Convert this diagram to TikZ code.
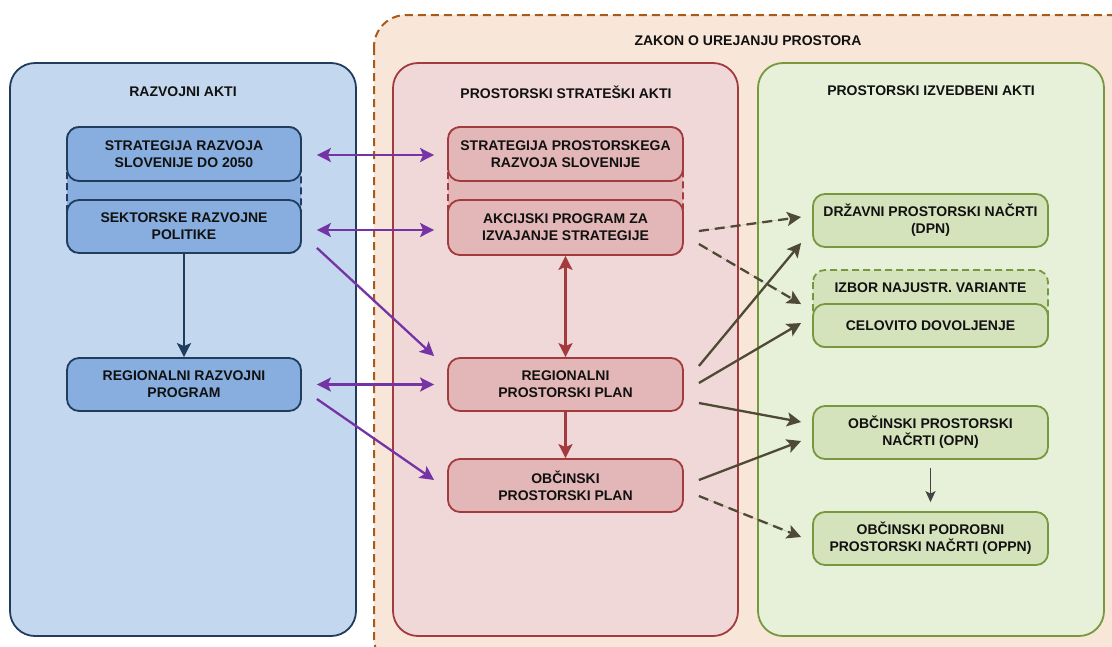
\documentclass[tikz,border=0pt]{standalone}
\usepackage{fontspec}
\setmainfont{Liberation Sans}
\usetikzlibrary{calc,arrows.meta}
\definecolor{bluePanel}{HTML}{C3D8EE}
\definecolor{blueBox}{HTML}{87AEDE}
\definecolor{navy}{HTML}{203D5E}
\definecolor{orangeFill}{HTML}{F8E7D8}
\definecolor{orangeLine}{HTML}{A85A1A}
\definecolor{pinkPanel}{HTML}{F0D8D8}
\definecolor{pinkBox}{HTML}{E3B7B7}
\definecolor{redLine}{HTML}{A33B3E}
\definecolor{greenPanel}{HTML}{E7F0D9}
\definecolor{greenBox}{HTML}{D5E3BD}
\definecolor{greenLine}{HTML}{77983E}
\definecolor{purpleArrow}{HTML}{7434A6}
\definecolor{oliveArrow}{HTML}{4F4A35}
\definecolor{grayArrow}{HTML}{444444}
\definecolor{txt}{HTML}{111111}
\tikzset{
  lbl/.style={font=\bfseries\fontsize{14}{17}\selectfont, text=txt, align=center, inner sep=0},
  panel/.style={rounded corners=25, line width=1.8pt, minimum width=346, minimum height=573, inner sep=0},
  boxbase/.style={rounded corners=12, line width=1.8pt, minimum width=234, minimum height=54, inner sep=0, lbl},
  bbox/.style={boxbase, draw=navy, fill=blueBox},
  pbox/.style={boxbase, draw=redLine, fill=pinkBox},
  gbox/.style={boxbase, draw=greenLine, fill=greenBox},
  tipA/.style={-{Stealth[length=14pt,width=14pt,inset=3pt]}},
  tipB/.style={{Stealth[length=14pt,width=14pt,inset=3pt]}-{Stealth[length=14pt,width=14pt,inset=3pt]}},
  parr/.style={draw=purpleArrow, fill=purpleArrow, line width=2.3pt},
  rarr/.style={draw=redLine, fill=redLine, line width=2.3pt},
  oarr/.style={draw=oliveArrow, fill=oliveArrow, line width=2.3pt},
  odash/.style={oarr, dash pattern=on 10pt off 6pt},
}
\begin{document}
\begin{tikzpicture}[x=1pt, y=-1pt]
\useasboundingbox (0,0) rectangle (1112,646);
\clip (0,0) rectangle (1112,646);
\fill[white] (0,0) rectangle (1112,646);

% outer dashed law frame
\draw[orangeLine, fill=orangeFill, line width=2pt, dash pattern=on 8pt off 5pt, rounded corners=32]
  (374,15) rectangle (1140,670);
\node[lbl] (zakon) at (748,41) {ZAKON O UREJANJU PROSTORA};

% panels
\node[panel, draw=navy, fill=bluePanel] (blue) at (183,349.5) {};
\node[panel, draw=redLine, fill=pinkPanel, minimum width=345] (pink) at (565.5,349.5) {};
\node[panel, draw=greenLine, fill=greenPanel] (green) at (931,349.5) {};
\node[lbl] (h1) at (183,92) {RAZVOJNI AKTI};
\node[lbl] (h2) at (566,92) {PROSTORSKI STRATEŠKI AKTI};
\node[lbl] (h3) at (931,91) {PROSTORSKI IZVEDBENI AKTI};

% group frames
\draw[navy, fill=blueBox, line width=1.8pt, dash pattern=on 7pt off 4pt, rounded corners=12] (67,127) rectangle (301,253);
\draw[redLine, fill=pinkBox, line width=1.8pt, dash pattern=on 7pt off 4pt, rounded corners=12] (448,127) rectangle (683,255);
\draw[greenLine, fill=greenBox, line width=1.8pt, dash pattern=on 7pt off 4pt, rounded corners=12] (813,270) rectangle (1048,347);
\node[lbl] (izbor) at (930.5,288) {IZBOR NAJUSTR. VARIANTE};

% blue boxes
\node[bbox] (b1) at (184,154) {STRATEGIJA RAZVOJA\\SLOVENIJE DO 2050};
\node[bbox, minimum height=53] (b2) at (184,226.5) {SEKTORSKE RAZVOJNE\\POLITIKE};
\node[bbox, minimum height=53] (b3) at (184,384.5) {REGIONALNI RAZVOJNI\\PROGRAM};

% pink boxes
\node[pbox, minimum width=235] (p1) at (565.5,154) {STRATEGIJA PROSTORSKEGA\\RAZVOJA SLOVENIJE};
\node[pbox, minimum width=235, minimum height=55] (p2) at (565.5,227.5) {AKCIJSKI PROGRAM ZA\\IZVAJANJE STRATEGIJE};
\node[pbox, minimum width=235, minimum height=53] (rp) at (565.5,384.5) {REGIONALNI\\PROSTORSKI PLAN};
\node[pbox, minimum width=235, minimum height=53] (op) at (565.5,485.5) {OBČINSKI\\PROSTORSKI PLAN};

% green boxes
\node[gbox, minimum width=235, minimum height=53] (g1) at (930.5,220.5) {DRŽAVNI PROSTORSKI NAČRTI\\(DPN)};
\node[gbox, minimum width=235, minimum height=43] (g2) at (930.5,325.5) {CELOVITO DOVOLJENJE};
\node[gbox, minimum width=235, minimum height=53] (g3) at (930.5,432.5) {OBČINSKI PROSTORSKI\\NAČRTI (OPN)};
\node[gbox, minimum width=235, minimum height=53] (g4) at (930.5,538.5) {OBČINSKI PODROBNI\\PROSTORSKI NAČRTI (OPPN)};

% blue connector
\draw[draw=navy, fill=navy, line width=2.3pt, tipA] (b2.south) -- (b3.north);

% purple connectors
\draw[parr, tipB] ($(b1.east)+(15,1)$) -- ($(p1.west)+(-13,1)$);
\draw[parr, tipB] ($(b2.east)+(15,3.5)$) -- ($(p2.west)+(-13,2.5)$);
\draw[parr, tipA] ($(b2.south east)+(15,-6)$) -- ($(rp.north west)+(-13,-1)$);
\draw[parr, tipB] ($(b3.east)+(15,0)$) -- ($(rp.west)+(-13,0)$);
\draw[parr, tipA] ($(b3.east)+(15,14.5)$) -- ($(op.west)+(-13,-5.5)$);

% red connectors
\draw[rarr, tipB] (p2.south) -- (rp.north);
\draw[rarr, tipA] (rp.south) -- (op.north);

% olive connectors
\draw[odash, tipA] ($(p2.east)+(15,3.5)$) -- ($(g1.west)+(-11,-3.5)$);
\draw[odash, tipA] ($(p2.east)+(15,16.5)$) -- ($(g2.north west)+(-11,1)$);
\draw[oarr, tipA] ($(rp.east)+(15,-18.5)$) -- ($(g1.south west)+(-11,-5)$);
\draw[oarr, tipA] ($(rp.east)+(15,-1.5)$) -- ($(g2.west)+(-11,-2.5)$);
\draw[oarr, tipA] ($(rp.east)+(15,18.5)$) -- ($(g3.west)+(-11,-10.5)$);
\draw[oarr, tipA] ($(op.east)+(15,-5.5)$) -- ($(g3.west)+(-11,8.5)$);
\draw[odash, tipA] ($(op.east)+(15,10.5)$) -- ($(g4.west)+(-11,-1.5)$);

% gray connector
\draw[draw=grayArrow, fill=grayArrow, line width=1.6pt, -{Stealth[length=11pt,width=10pt,inset=2.5pt]}, shorten <=8pt, shorten >=9pt] (g3.south) -- (g4.north);
\end{tikzpicture}
\end{document}
